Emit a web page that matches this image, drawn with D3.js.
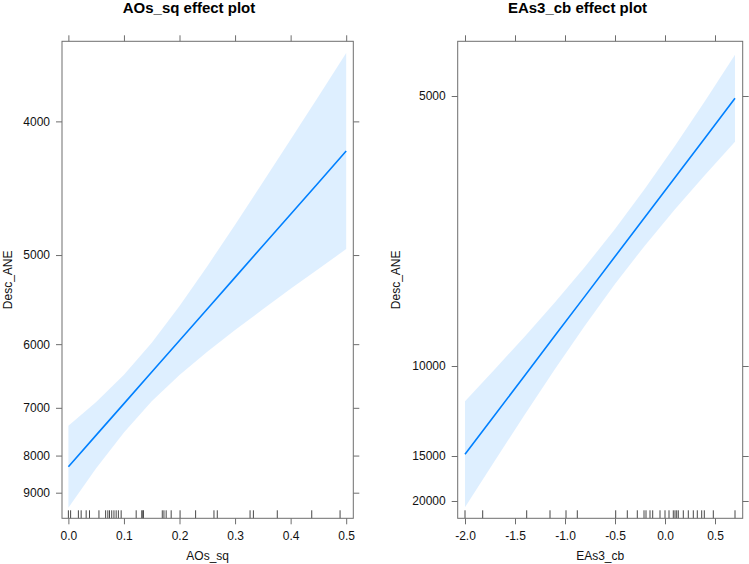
<!DOCTYPE html>
<html>
<head>
<meta charset="utf-8">
<script src="https://cdn.jsdelivr.net/npm/d3@7"></script>
<style>
  html, body { margin: 0; padding: 0; background: #fff; }
  svg { display: block; font-family: "Liberation Sans", Arial, Helvetica, sans-serif; }
</style>
</head>
<body>
<svg id="chart" width="749" height="564"></svg>
<script>
// ---------- Panel 1: AOs_sq ----------
const aosX      = [0, 0.05, 0.1, 0.15, 0.2, 0.25, 0.3, 0.35, 0.4, 0.45, 0.5];
const aosFit    = [8276, 7539, 6924, 6400, 5950, 5560, 5218, 4914, 4645, 4404, 4186];
const aosLow    = [7344, 6894, 6443, 5981, 5526, 5106, 4731, 4401, 4111, 3856, 3629];
const aosHigh   = [9479, 8317, 7482, 6883, 6445, 6104, 5816, 5564, 5337, 5133, 4945];
const aosRug    = [0.000, 0.004, 0.018, 0.023, 0.032, 0.038, 0.055, 0.067, 0.071, 0.074,
                   0.078, 0.082, 0.086, 0.090, 0.095, 0.122, 0.132, 0.134, 0.135, 0.169,
                   0.172, 0.176, 0.185, 0.201, 0.229, 0.262, 0.268, 0.327, 0.333, 0.376,
                   0.438, 0.489];
const aosXTicks = [0, 0.1, 0.2, 0.3, 0.4, 0.5];
const aosYTicks = [4000, 5000, 6000, 7000, 8000, 9000];
const aosXLim   = [-0.0115, 0.5128];
const aosYLim   = [9849, 3572];   // bottom, top (Desc_ANE, inverse scale)

// ---------- Panel 2: EAs3_cb ----------
const easX      = [-2.0, -1.7, -1.4, -1.1, -0.8, -0.5, -0.2, 0.1, 0.4, 0.7];
const easFit    = [14860, 12201, 10353, 8988, 7944, 7115, 6444, 5888, 5421, 5021];
const easLow    = [11504, 10112, 9006, 8089, 7313, 6634, 6035, 5506, 5046, 4646];
const easHigh   = [20979, 15376, 12173, 10112, 8693, 7670, 6912, 6326, 5856, 5462];
const easRug    = [-2.0, -1.823, -1.383, -1.15, -0.99, -0.877, -0.493, -0.377, -0.277, -0.21,
                   -0.19, -0.15, -0.123, -0.05, 0.0, 0.04, 0.083, 0.10, 0.117, 0.133,
                   0.183, 0.233, 0.283, 0.323, 0.367, 0.393, 0.483, 0.7];
const easXTicks = [-2.0, -1.5, -1.0, -0.5, 0.0, 0.5];
const easYTicks = [5000, 10000, 15000, 20000];
const easXLim   = [-2.073, 0.777];
const easYLim   = [22940, 4540];

const panels = [
  { title: "AOs_sq effect plot", xlab: "AOs_sq", ylab: "Desc_ANE",
    x: aosX, fit: aosFit, lo: aosLow, hi: aosHigh, rug: aosRug,
    xTicks: aosXTicks, yTicks: aosYTicks, xLim: aosXLim, yLim: aosYLim,
    box: { x0: 62, x1: 353.3, y0: 41.3, y1: 518.3 }, titleX: 189, ylabX: 8 },
  { title: "EAs3_cb effect plot", xlab: "EAs3_cb", ylab: "Desc_ANE",
    x: easX, fit: easFit, lo: easLow, hi: easHigh, rug: easRug,
    xTicks: easXTicks, yTicks: easYTicks, xLim: easXLim, yLim: easYLim,
    box: { x0: 457.7, x1: 742.7, y0: 41.3, y1: 518.3 }, titleX: 577.5, ylabX: 396 }
];

const svg = d3.select("#chart");
svg.append("rect").attr("width", 749).attr("height", 564).attr("fill", "#fff");

const boxCol = "#6e6e6e";
const lineCol = "#0080ff";
const fmt1 = v => (v < 0 ? "-" : "") + Math.abs(v).toFixed(1);

panels.forEach(p => {
  const b = p.box;
  const g = svg.append("g");
  const x = d3.scaleLinear().domain(p.xLim).range([b.x0, b.x1]);
  // inverse-transformed y: linear in 1/Desc_ANE
  const yInv = d3.scaleLinear().domain([1 / p.yLim[0], 1 / p.yLim[1]]).range([b.y1, b.y0]);
  const y = v => yInv(1 / v);

  // confidence band
  const rows = p.x.map((xv, i) => ({ x: xv, fit: p.fit[i], lo: p.lo[i], hi: p.hi[i] }));
  g.append("path").datum(rows)
    .attr("fill", lineCol).attr("fill-opacity", 0.13)
    .attr("d", d3.area().x(d => x(d.x)).y0(d => y(d.hi)).y1(d => y(d.lo)));
  // fitted line
  g.append("path").datum(rows)
    .attr("fill", "none").attr("stroke", lineCol).attr("stroke-width", 1.6)
    .attr("d", d3.line().x(d => x(d.x)).y(d => y(d.fit)));

  // rug
  g.append("g").selectAll("line").data(p.rug).join("line")
    .attr("x1", d => x(d)).attr("x2", d => x(d))
    .attr("y1", b.y1 - 8).attr("y2", b.y1)
    .attr("stroke", "#333").attr("stroke-width", 0.9);

  // axes
  const styleAxis = sel => {
    sel.select(".domain").remove();
    sel.selectAll(".tick line").attr("stroke", boxCol);
    sel.selectAll(".tick text").attr("fill", "#111").attr("font-size", 12)
       .attr("font-family", "\"Liberation Sans\", Arial, Helvetica, sans-serif");
  };
  const invTicks = p.yTicks.map(t => 1 / t);
  g.append("g").attr("transform", `translate(${b.x0},0)`)
    .call(d3.axisLeft(yInv).tickValues(invTicks).tickSize(6).tickPadding(6)
      .tickFormat(v => String(Math.round(1 / v)))).call(styleAxis);
  g.append("g").attr("transform", `translate(${b.x1},0)`)
    .call(d3.axisRight(yInv).tickValues(invTicks).tickSize(6).tickFormat(() => "")).call(styleAxis);
  g.append("g").attr("transform", `translate(0,${b.y1})`)
    .call(d3.axisBottom(x).tickValues(p.xTicks).tickSize(6).tickPadding(7).tickFormat(fmt1)).call(styleAxis);
  g.append("g").attr("transform", `translate(0,${b.y0})`)
    .call(d3.axisTop(x).tickValues(p.xTicks).tickSize(6).tickFormat(() => "")).call(styleAxis);

  // frame
  g.append("rect").attr("x", b.x0).attr("y", b.y0)
    .attr("width", b.x1 - b.x0).attr("height", b.y1 - b.y0)
    .attr("fill", "none").attr("stroke", boxCol).attr("stroke-width", 1);

  // titles
  svg.append("text").attr("x", p.titleX).attr("y", 12.5)
    .attr("text-anchor", "middle").attr("font-weight", "bold").attr("font-size", 15)
    .attr("fill", "#000").text(p.title);
  svg.append("text").attr("x", (b.x0 + b.x1) / 2).attr("y", 560)
    .attr("text-anchor", "middle").attr("font-size", 12).attr("fill", "#111").text(p.xlab);
  svg.append("text")
    .attr("transform", `translate(${p.ylabX},${(b.y0 + b.y1) / 2}) rotate(-90)`)
    .attr("text-anchor", "middle").attr("dy", "0.35em").attr("font-size", 12)
    .attr("fill", "#111").text(p.ylab);
});
</script>
</body>
</html>
